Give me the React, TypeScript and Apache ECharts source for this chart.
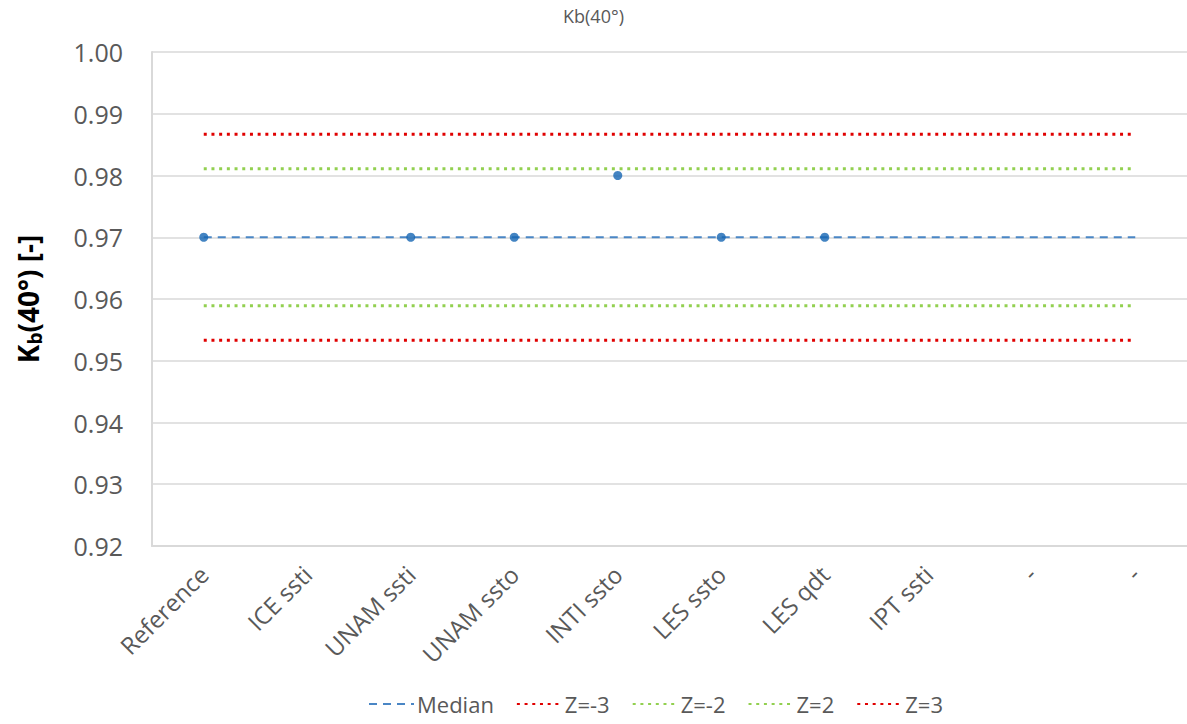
import React, { useEffect, useRef } from "react";
import * as echarts from "echarts";

const categories = ["Reference", "ICE ssti", "UNAM ssti", "UNAM ssto", "INTI ssto", "LES ssto", "LES qdt", "IPT ssti", "-", "-"];
const pointValues = [0.97, null, 0.97, 0.97, 0.98, 0.97, 0.97, null, null, null];
const medianValue = 0.97;
const zm3Value = 0.9533;
const zm2Value = 0.9589;
const zp2Value = 0.9811;
const zp3Value = 0.9867;
const yTicks = { min: 0.92, max: 1.0, interval: 0.01 };

const FONT = "'Open Sans', sans-serif";

export default function App() {
  const ref = useRef<HTMLDivElement>(null);
  useEffect(() => {
    if (!ref.current) return;
    const chart = echarts.init(ref.current, null, { renderer: "svg" });
    const flat = (v: number) => categories.map(() => v);
    const lineSeries = (name: string, v: number, color: string, type: any, width: number) => ({
      name,
      type: "line",
      data: flat(v),
      symbol: "none",
      lineStyle: { color, type, width },
      itemStyle: { color },
      z: 2,
    });
    chart.setOption({
      animation: false,
      textStyle: { fontFamily: FONT },
      title: {
        text: "Kb(40°)",
        left: "center",
        top: 2,
        textStyle: { fontSize: 18, fontWeight: "normal", color: "#595959", fontFamily: FONT },
      },
      grid: { left: 152, top: 52, bottom: 178, right: -3 },
      legend: {
        top: 686,
        left: 363,
        itemWidth: 45,
        itemHeight: 14,
        itemGap: 22,
        itemStyle: { opacity: 0 },
        textStyle: { fontSize: 22, lineHeight: 26, color: "#595959", fontFamily: FONT, padding: [0, 0, 0, -2] },
        data: ["Median", "Z=-3", "Z=-2", "Z=2", "Z=3"],
      },
      xAxis: {
        type: "category",
        data: categories,
        boundaryGap: true,
        axisLine: { lineStyle: { color: "#d9d9d9", width: 2 } },
        axisTick: { inside: true, length: 8, lineStyle: { color: "#d9d9d9" } },
        axisLabel: { rotate: 45, fontSize: 24, color: "#595959", margin: 24, interval: 0, fontFamily: FONT },
        splitLine: { show: false },
      },
      yAxis: {
        type: "value",
        min: yTicks.min,
        max: yTicks.max,
        interval: yTicks.interval,
        axisLine: { show: true, lineStyle: { color: "#d9d9d9", width: 2 } },
        axisTick: { show: false },
        axisLabel: { fontSize: 25, color: "#595959", margin: 29, formatter: (v: number) => v.toFixed(2), fontFamily: FONT },
        splitLine: { lineStyle: { color: "#d9d9d9", width: 1.5 } },
        name: "{a|K}{b|b}{a|(40°) [-]}",
        nameLocation: "middle",
        nameRotate: 90,
        nameGap: 108,
        nameTextStyle: {
          rich: {
            a: { fontSize: 28, fontWeight: "bold", color: "#000", fontFamily: FONT },
            b: { fontSize: 19, fontWeight: "bold", color: "#000", fontFamily: FONT, verticalAlign: "bottom", padding: [13, 0, 0, 0] },
          },
        },
      },
      series: [
        lineSeries("Median", medianValue, "#4a86c5", [8, 6], 2),
        lineSeries("Z=-3", zm3Value, "#e00000", [3, 4.7], 3),
        lineSeries("Z=-2", zm2Value, "#92d050", [3, 4.7], 3),
        lineSeries("Z=2", zp2Value, "#92d050", [3, 4.7], 3),
        lineSeries("Z=3", zp3Value, "#e00000", [3, 4.7], 3),
        {
          name: "Values",
          type: "scatter",
          data: pointValues,
          symbol: "circle",
          symbolSize: 9,
          itemStyle: { color: "#1565b3" },
          z: 5,
        },
      ],
    });
    return () => chart.dispose();
  }, []);
  return <div ref={ref} style={{ position: "absolute", left: 0, top: 0, width: 1187, height: 724, background: "#fff" }} />;
}
